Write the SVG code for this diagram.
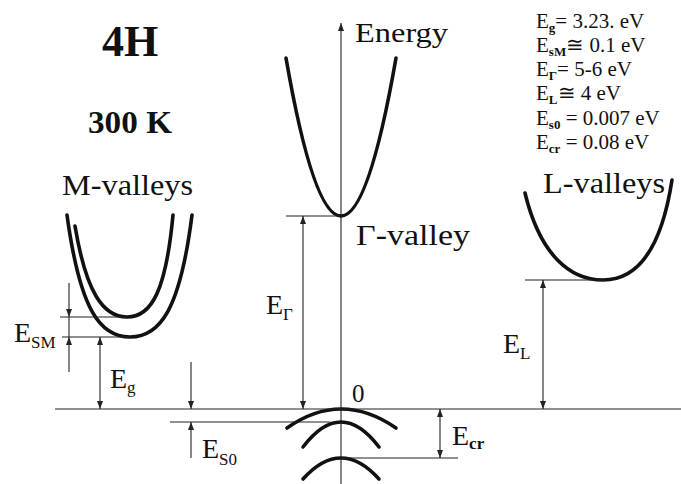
<svg xmlns="http://www.w3.org/2000/svg" width="681" height="484" viewBox="0 0 681 484" font-family="'Liberation Serif','Times New Roman',serif">
<style>
text{font-family:"Liberation Serif","Times New Roman",serif;fill:#111}
.thin{stroke:#222;stroke-width:1.1;fill:none}
.band{stroke:#111;stroke-width:3.6;fill:none;stroke-linecap:round}
.arr{stroke:#222;stroke-width:1.1;fill:none;marker-end:url(#ah)}
.dbl{stroke:#222;stroke-width:1.1;fill:none;marker-end:url(#ah);marker-start:url(#ah)}
.lbl{font-size:28px}
.sub{font-size:17px}
.par{font-size:21px}
.psub{font-size:13px;font-weight:bold}
</style>
<defs>
<marker id="ah" viewBox="0 0 8 6" refX="8" refY="3" markerWidth="8" markerHeight="6" markerUnits="userSpaceOnUse" orient="auto-start-reverse">
<path d="M0,0 L8,3 L0,6 z" fill="#222"/>
</marker>
</defs>
<rect width="681" height="484" fill="#fff"/>

<g id="titles">
<text x="102" y="56" font-size="44" font-weight="bold">4H</text>
<text x="88" y="133" font-size="31" font-weight="bold" textLength="84" lengthAdjust="spacingAndGlyphs">300 K</text>
</g>

<g id="energy-axis">
<path class="arr" d="M341,484 L341,23"/>
<text x="355" y="42" font-size="27" textLength="93" lengthAdjust="spacingAndGlyphs">Energy</text>
<text x="352" y="402" font-size="25">0</text>
</g>

<g id="gamma-valley">
<path class="band" d="M286,58 Q341,374 396,58"/>
<text x="356" y="245" font-size="29" textLength="114" lengthAdjust="spacingAndGlyphs">Γ-valley</text>
</g>

<g id="m-valleys">
<path class="band" d="M67,215 C80,310 100,337 130,337 C160,337 180,310 192,215"/>
<path class="band" d="M75,226 C86,292 103,317 127,317 C152,317 166,290 173,215"/>
<text x="62" y="195" font-size="29" textLength="131" lengthAdjust="spacingAndGlyphs">M-valleys</text>
</g>

<g id="l-valleys">
<path class="band" d="M525,193 C540,255 570,280 603,280 C640,280 662,245 672,180"/>
<text x="543" y="193" font-size="29" textLength="122" lengthAdjust="spacingAndGlyphs">L-valleys</text>
</g>

<g id="valence-bands">
<path class="band" d="M287,428 Q341,390 396,428"/>
<path class="band" d="M303,447 Q341,397 379,447"/>
<path class="band" d="M303,479 Q341,437 379,479"/>
</g>

<g id="connectors">
<path class="thin" d="M55,409 L681,409"/>
<path class="thin" d="M170,422 L330,422"/>
<path class="thin" d="M286,216 L341,216"/>
<path class="thin" d="M525,280 L605,280"/>
<path class="thin" d="M60,317 L127,317"/>
<path class="thin" d="M62,337 L130,337"/>
<path class="thin" d="M341,458 L458,458"/>
<path class="dbl" d="M303,216 L303,409"/>
<path class="dbl" d="M100,337 L100,409"/>
<path class="dbl" d="M543,280 L543,409"/>
<path class="dbl" d="M440,409 L440,458"/>
<path class="arr" d="M69,283 L69,317"/>
<path class="thin" d="M69,317 L69,337"/>
<path class="arr" d="M69,372 L69,337"/>
<path class="arr" d="M191,362 L191,409"/>
<path class="arr" d="M191,458 L191,422"/>
</g>

<g id="labels">
<text x="14" y="342" class="lbl">E<tspan class="sub" y="348">SM</tspan></text>
<text x="110" y="388" class="lbl">E<tspan class="sub" y="393">g</tspan></text>
<text x="266" y="314" class="lbl">E<tspan class="sub" y="320">Γ</tspan></text>
<text x="503" y="353" class="lbl">E<tspan class="sub" y="359">L</tspan></text>
<text x="202" y="458" class="lbl">E<tspan class="sub" y="465">S0</tspan></text>
<text x="452" y="445" class="lbl">E<tspan class="sub" y="449" font-weight="bold">cr</tspan></text>
</g>

<g id="parameters">
<text x="536" y="28" class="par">E<tspan class="psub" y="32">g</tspan><tspan y="28">= 3.23. eV</tspan></text>
<text x="536" y="52" class="par">E<tspan class="psub" y="56">sM</tspan><tspan y="52">≅ 0.1 eV</tspan></text>
<text x="536" y="76" class="par">E<tspan class="psub" y="80">Γ</tspan><tspan y="76">= 5-6 eV</tspan></text>
<text x="536" y="100" class="par">E<tspan class="psub" y="104">L</tspan><tspan y="100">≅ 4 eV</tspan></text>
<text x="536" y="125" class="par">E<tspan class="psub" y="129">s0</tspan><tspan y="125"> = 0.007 eV</tspan></text>
<text x="536" y="149" class="par">E<tspan class="psub" y="153">cr</tspan><tspan y="149"> = 0.08 eV</tspan></text>
</g>
</svg>
